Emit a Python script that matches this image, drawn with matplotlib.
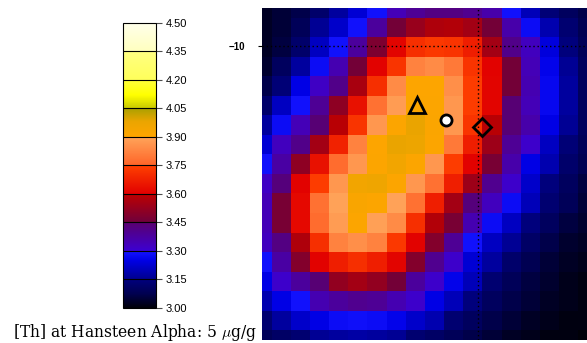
import matplotlib
matplotlib.use('Agg')
import matplotlib.pyplot as plt
import numpy as np
from matplotlib.colors import LinearSegmentedColormap, Normalize
from matplotlib.cm import ScalarMappable

# valores de [Th], linha 0 = topo
th_rows = [
    [3.03, 3.05, 3.07, 3.12, 3.17, 3.23, 3.295, 3.34, 3.39, 3.42, 3.42, 3.40, 3.36, 3.295, 3.20, 3.14, 3.10, 3.07],
    [3.03, 3.05, 3.09, 3.16, 3.22, 3.295, 3.38, 3.46, 3.53, 3.57, 3.58, 3.55, 3.46, 3.36, 3.28, 3.19, 3.13, 3.08],
    [3.03, 3.06, 3.12, 3.21, 3.295, 3.38, 3.48, 3.61, 3.71, 3.73, 3.72, 3.67, 3.55, 3.41, 3.33, 3.24, 3.15, 3.09],
    [3.04, 3.10, 3.17, 3.28, 3.35, 3.46, 3.605, 3.72, 3.82, 3.84, 3.80, 3.72, 3.605, 3.46, 3.34, 3.26, 3.16, 3.10],
    [3.07, 3.14, 3.25, 3.32, 3.41, 3.56, 3.71, 3.84, 3.905, 3.905, 3.85, 3.74, 3.61, 3.46, 3.35, 3.27, 3.17, 3.10],
    [3.12, 3.21, 3.295, 3.39, 3.51, 3.64, 3.78, 3.88, 3.91, 3.91, 3.87, 3.74, 3.61, 3.44, 3.34, 3.27, 3.17, 3.10],
    [3.17, 3.28, 3.34, 3.44, 3.59, 3.72, 3.87, 3.91, 3.98, 3.915, 3.87, 3.72, 3.59, 3.44, 3.36, 3.25, 3.16, 3.10],
    [3.23, 3.33, 3.41, 3.55, 3.68, 3.82, 3.905, 3.98, 3.97, 3.91, 3.80, 3.67, 3.54, 3.39, 3.31, 3.21, 3.14, 3.09],
    [3.295, 3.37, 3.51, 3.64, 3.77, 3.87, 3.91, 3.95, 3.91, 3.87, 3.74, 3.605, 3.47, 3.36, 3.25, 3.19, 3.12, 3.08],
    [3.32, 3.43, 3.605, 3.74, 3.87, 3.95, 3.96, 3.91, 3.87, 3.78, 3.67, 3.54, 3.40, 3.31, 3.22, 3.15, 3.10, 3.06],
    [3.34, 3.47, 3.62, 3.78, 3.895, 3.92, 3.91, 3.895, 3.78, 3.67, 3.55, 3.43, 3.33, 3.28, 3.20, 3.13, 3.09, 3.05],
    [3.34, 3.47, 3.62, 3.77, 3.88, 3.91, 3.89, 3.84, 3.71, 3.58, 3.47, 3.35, 3.28, 3.21, 3.15, 3.10, 3.06, 3.04],
    [3.33, 3.42, 3.57, 3.71, 3.82, 3.85, 3.82, 3.73, 3.605, 3.49, 3.39, 3.295, 3.21, 3.16, 3.11, 3.07, 3.04, 3.03],
    [3.295, 3.37, 3.49, 3.605, 3.67, 3.71, 3.67, 3.61, 3.49, 3.40, 3.31, 3.23, 3.17, 3.12, 3.08, 3.05, 3.03, 3.02],
    [3.25, 3.31, 3.38, 3.44, 3.52, 3.55, 3.52, 3.46, 3.38, 3.31, 3.26, 3.20, 3.13, 3.09, 3.06, 3.04, 3.02, 3.01],
    [3.19, 3.25, 3.295, 3.35, 3.38, 3.40, 3.39, 3.35, 3.31, 3.25, 3.20, 3.15, 3.10, 3.07, 3.05, 3.03, 3.02, 3.01],
    [3.13, 3.17, 3.22, 3.25, 3.28, 3.29, 3.28, 3.26, 3.22, 3.19, 3.13, 3.10, 3.07, 3.05, 3.03, 3.02, 3.01, 3.01],
    [3.09, 3.11, 3.13, 3.16, 3.17, 3.18, 3.17, 3.16, 3.13, 3.11, 3.09, 3.07, 3.05, 3.03, 3.02, 3.01, 3.01, 3.00],
]

vmin, vmax = 3.00, 4.50
cbar_ticks = [3.00, 3.15, 3.30, 3.45, 3.60, 3.75, 3.90, 4.05, 4.20, 4.35, 4.50]

# marcadores (coluna, linha) no grid
triangle_pos = (8.1, 4.97)
circle_pos = (9.6, 5.74)
diamond_pos = (11.48, 6.09)

# linhas pontilhadas e o tick de latitude
lat_row = 1.95
lat_label = '\u221210'
lon_col = 11.3

label_text = r'[Th] at Hansteen Alpha: 5 $\mu$g/g'

# paleta com saltos nos limites de cada faixa
nodes = [
    (3.00, '#000008'), (3.075, '#000050'), (3.1499, '#00007d'),
    (3.15, '#00008c'), (3.25, '#0000e6'), (3.2999, '#1414ff'),
    (3.30, '#3c00d2'), (3.4499, '#5a006e'),
    (3.45, '#6e003c'), (3.5999, '#be0000'),
    (3.60, '#e10000'), (3.7499, '#ff4100'),
    (3.75, '#ff6428'), (3.8999, '#ffa55a'),
    (3.90, '#ffa500'), (3.98, '#eba500'), (4.0499, '#aaa000'),
    (4.05, '#c8c800'), (4.12, '#ffff00'), (4.1999, '#ffff3c'),
    (4.20, '#ffff5a'), (4.3499, '#ffff82'),
    (4.35, '#ffffbe'), (4.50, '#ffffeb'),
]
cmap = LinearSegmentedColormap.from_list(
    'th', [((v - vmin) / (vmax - vmin), c) for v, c in nodes], N=1024)
norm = Normalize(vmin, vmax)

fig = plt.figure(figsize=(5.87, 3.43), dpi=100)

# mapa
W, H = 587.0, 343.0
ax = fig.add_axes([262 / W, 3 / H, 325.6 / W, 332 / H])
dados = np.array(th_rows)
nr, nc = dados.shape
ax.imshow(dados, cmap=cmap, norm=norm, interpolation='nearest', aspect='auto',
          extent=(-0.5, nc - 0.5, nr - 0.5, -0.5))
ax.set_xlim(0, nc - 1)
ax.set_ylim(nr - 1, 0)
for s in ax.spines.values():
    s.set_visible(False)
ax.set_xticks([])
ax.set_yticks([lat_row])
ax.set_yticklabels([lat_label], fontsize=7, fontweight='bold', family='Liberation Sans')
ax.tick_params(axis='y', length=3, width=0.8, pad=9)

ax.axhline(lat_row, color='k', ls=(0, (1, 2)), lw=1)
ax.axvline(lon_col, color='k', ls=(0, (1, 2)), lw=1)

ax.plot(*triangle_pos, marker='^', ms=12, mfc='none', mec='k', mew=2)
ax.plot(*circle_pos, marker='o', ms=8, mfc='white', mec='k', mew=2)
ax.plot(*diamond_pos, marker='D', ms=9.5, mfc='none', mec='k', mew=2)

# barra de cores
cax = fig.add_axes([123 / W, 35 / H, 32.7 / W, 285.3 / H])
cb = fig.colorbar(ScalarMappable(norm=norm, cmap=cmap), cax=cax, ticks=cbar_ticks)
cb.ax.set_yticklabels(['%.2f' % t for t in cbar_ticks], fontsize=8,
                      family='Liberation Sans')
cb.ax.tick_params(length=4, width=0.8, pad=3, color='0.3')
cb.outline.set_linewidth(0.8)
for t in cbar_ticks[1:-1]:
    cb.ax.axhline(t, color='k', lw=0.8)

fig.text(257 / W, 6 / H, label_text, ha='right', va='baseline', fontsize=11.2,
         family='DejaVu Serif', math_fontfamily='cm')

fig.savefig('out.png', dpi=100)
